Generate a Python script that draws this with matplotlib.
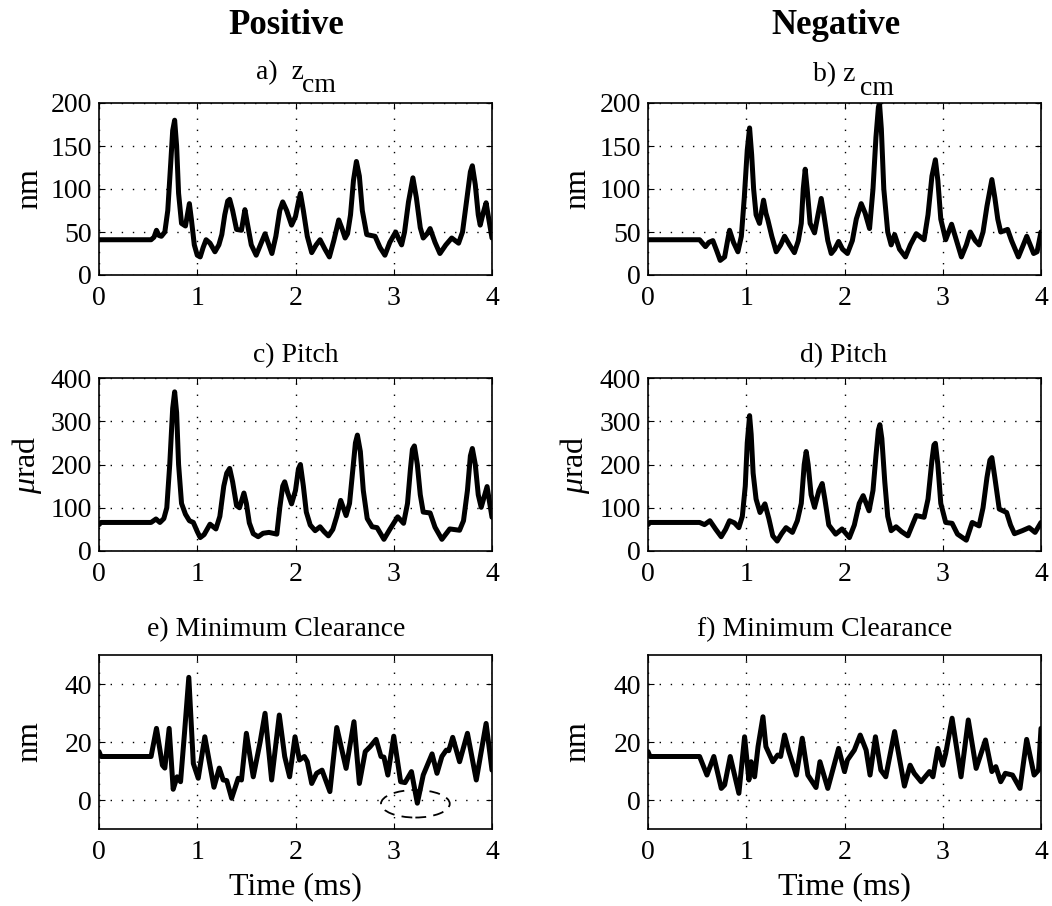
import matplotlib
matplotlib.use("Agg")
import matplotlib.pyplot as plt
from matplotlib.patches import Ellipse
from matplotlib.transforms import blended_transform_factory

plt.rcParams['font.family'] = ['Liberation Serif', 'DejaVu Serif']
plt.rcParams['mathtext.fontset'] = 'custom'
plt.rcParams['mathtext.rm'] = 'Liberation Serif'
plt.rcParams['mathtext.it'] = 'Liberation Serif:italic'

# ---- data (time in ms) ----
t_a = [0, 0.53, 0.56, 0.585, 0.61, 0.635, 0.67, 0.70, 0.73, 0.75, 0.77, 0.79, 0.81, 0.84, 0.88, 0.90, 0.92,
       0.94, 0.97, 1.0, 1.03, 1.06, 1.09, 1.13, 1.18, 1.22, 1.25, 1.28, 1.31, 1.33, 1.36, 1.40, 1.45, 1.485,
       1.51, 1.55, 1.60, 1.65, 1.69, 1.72, 1.76, 1.80, 1.84, 1.87, 1.91, 1.96, 2.0, 2.03, 2.05, 2.08, 2.12,
       2.165, 2.21, 2.25, 2.30, 2.345, 2.39, 2.44, 2.47, 2.505, 2.53, 2.56, 2.59, 2.62, 2.65, 2.68, 2.725,
       2.81, 2.86, 2.91, 2.96, 3.02, 3.05, 3.08, 3.11, 3.15, 3.195, 3.23, 3.27, 3.30, 3.34, 3.37, 3.42, 3.47,
       3.53, 3.59, 3.66, 3.70, 3.74, 3.78, 3.80, 3.83, 3.86, 3.88, 3.91, 3.94, 3.96, 4.0]
y_a = [41, 41, 44, 52, 46, 45, 50, 75, 130, 168, 180, 150, 95, 60, 57, 70, 83,
       65, 35, 23, 21, 32, 41, 37, 27, 35, 47, 70, 86, 88, 75, 53, 52, 76,
       60, 35, 23, 37, 48, 38, 25, 45, 75, 85, 75, 58, 68, 85, 95, 75, 45,
       26, 35, 41, 30, 21, 40, 64, 55, 43, 48, 70, 110, 132, 115, 75, 47,
       45, 32, 23, 38, 50, 42, 35, 50, 85, 113, 90, 55, 43, 48, 54, 38, 25,
       35, 43, 37, 50, 85, 120, 127, 105, 70, 58, 72, 84, 70, 43]

t_b = [0, 0.525, 0.555, 0.585, 0.62, 0.66, 0.70, 0.735, 0.78, 0.81, 0.83, 0.87, 0.915, 0.95, 0.98, 1.01,
       1.034, 1.055, 1.075, 1.10, 1.135, 1.176, 1.20, 1.22, 1.26, 1.305, 1.35, 1.39, 1.44, 1.49, 1.53, 1.56,
       1.58, 1.60, 1.62, 1.65, 1.695, 1.73, 1.763, 1.79, 1.83, 1.865, 1.90, 1.94, 1.98, 2.03, 2.08, 2.12,
       2.17, 2.21, 2.255, 2.29, 2.32, 2.345, 2.356, 2.375, 2.40, 2.44, 2.475, 2.51, 2.56, 2.62, 2.67, 2.73,
       2.81, 2.85, 2.89, 2.925, 2.95, 2.98, 3.03, 3.09, 3.14, 3.19, 3.24, 3.28, 3.33, 3.37, 3.41, 3.45,
       3.50, 3.53, 3.56, 3.59, 3.66, 3.70, 3.77, 3.82, 3.855, 3.89, 3.925, 3.96, 4.0]
y_b = [41, 41, 37, 33, 38, 40, 28, 17, 21, 40, 52, 38, 27, 45, 90, 145,
       171, 140, 100, 70, 60, 87, 72, 64, 45, 27, 35, 45, 35, 26, 40, 60,
       100, 123, 100, 60, 49, 70, 89, 70, 40, 25, 30, 39, 30, 25, 40, 65,
       83, 72, 54, 100, 160, 195, 200, 170, 100, 50, 35, 47, 30, 21, 35, 48,
       41, 70, 115, 134, 110, 65, 41, 59, 40, 21, 35, 50, 40, 35, 50, 80,
       111, 90, 65, 50, 53, 40, 21, 35, 45, 35, 25, 27, 50]

t_c = [0, 0.02, 0.53, 0.58, 0.62, 0.66, 0.69, 0.72, 0.75, 0.77, 0.79, 0.81, 0.84, 0.88, 0.92, 0.96, 1.0,
       1.03, 1.07, 1.13, 1.19, 1.23, 1.27, 1.30, 1.33, 1.36, 1.40, 1.43, 1.475, 1.50, 1.53, 1.57, 1.62, 1.67,
       1.73, 1.81, 1.84, 1.87, 1.89, 1.92, 1.96, 2.0, 2.03, 2.05, 2.08, 2.11, 2.15, 2.20, 2.25, 2.29, 2.335,
       2.38, 2.42, 2.46, 2.515, 2.55, 2.58, 2.61, 2.63, 2.66, 2.69, 2.73, 2.78, 2.83, 2.90, 2.96, 3.04, 3.10,
       3.14, 3.17, 3.19, 3.21, 3.24, 3.27, 3.30, 3.37, 3.42, 3.49, 3.57, 3.67, 3.71, 3.75, 3.78, 3.80, 3.83,
       3.86, 3.89, 3.95, 3.97, 4.0]
y_c = [61, 66, 66, 74, 66, 75, 100, 200, 330, 368, 320, 200, 110, 85, 70, 66, 45,
       31, 38, 62, 51, 80, 150, 180, 191, 160, 105, 100, 134, 110, 65, 40, 33, 41,
       43, 39, 100, 150, 160, 135, 109, 140, 190, 200, 150, 90, 60, 47, 56, 45, 35,
       50, 80, 117, 82, 110, 180, 250, 268, 230, 140, 75, 56, 54, 27, 50, 79, 64,
       110, 190, 235, 243, 200, 130, 90, 88, 55, 27, 51, 48, 70, 140, 220, 237, 200,
       130, 101, 149, 120, 78]

t_d = [0, 0.02, 0.525, 0.575, 0.63, 0.69, 0.745, 0.79, 0.83, 0.88, 0.925, 0.96, 0.99, 1.01, 1.034, 1.05,
       1.07, 1.10, 1.14, 1.19, 1.23, 1.27, 1.315, 1.36, 1.405, 1.47, 1.52, 1.56, 1.59, 1.61, 1.63, 1.66,
       1.695, 1.74, 1.773, 1.80, 1.84, 1.91, 1.975, 2.05, 2.10, 2.15, 2.19, 2.25, 2.29, 2.32, 2.345, 2.36,
       2.38, 2.41, 2.44, 2.475, 2.525, 2.58, 2.645, 2.69, 2.73, 2.81, 2.85, 2.89, 2.91, 2.925, 2.95, 2.98,
       3.03, 3.095, 3.15, 3.24, 3.30, 3.37, 3.41, 3.45, 3.48, 3.50, 3.53, 3.575, 3.65, 3.69, 3.73, 3.81,
       3.88, 3.94, 4.0]
y_d = [61, 66, 66, 61, 70, 50, 33, 50, 70, 65, 54, 80, 150, 250, 313, 270,
       180, 120, 89, 109, 75, 35, 23, 40, 54, 43, 70, 110, 200, 230, 200, 130,
       101, 140, 156, 120, 60, 39, 51, 31, 60, 110, 128, 93, 140, 220, 280, 292,
       260, 160, 80, 47, 56, 45, 35, 60, 82, 78, 120, 210, 245, 249, 200, 110,
       66, 64, 39, 25, 66, 58, 100, 170, 210, 216, 170, 97, 89, 60, 40, 47,
       54, 43, 66]

t_e = [0, 0.02, 0.53, 0.585, 0.645, 0.67, 0.714, 0.755, 0.795, 0.83, 0.87, 0.914, 0.96, 1.01, 1.077, 1.17,
       1.224, 1.264, 1.30, 1.35, 1.417, 1.45, 1.50, 1.57, 1.64, 1.69, 1.757, 1.835, 1.89, 1.94, 1.995,
       2.04, 2.09, 2.12, 2.165, 2.215, 2.27, 2.35, 2.42, 2.515, 2.595, 2.65, 2.71, 2.76, 2.82, 2.87,
       2.90, 2.94, 3.0, 3.07, 3.115, 3.18, 3.24, 3.30, 3.39, 3.44, 3.49, 3.535, 3.56, 3.60, 3.67, 3.75,
       3.84, 3.94, 4.0]
y_e = [16.7, 15, 15, 24.7, 12, 11, 24.7, 3.7, 8, 6.3, 23, 42.3, 12.6, 7.5, 21.8, 4.4,
       11, 6.9, 6.7, 0.6, 7.5, 6.9, 23, 8, 20, 29.9, 6.9, 29.3, 15, 8, 21.8,
       13.8, 15, 13.2, 5.7, 9.2, 10.3, 2.9, 25, 10.9, 27, 5.7, 16.7, 18.4, 20.9, 15,
       14.8, 8.6, 22, 6.3, 6, 9.8, -1.1, 8.6, 15.9, 9.2, 15, 17.2, 17, 21.6, 13.2, 23,
       6.9, 26.4, 10.3]

t_f = [0, 0.02, 0.525, 0.60, 0.67, 0.746, 0.78, 0.837, 0.925, 0.983, 1.027, 1.05, 1.085, 1.12, 1.17, 1.20,
       1.27, 1.32, 1.35, 1.39, 1.434, 1.51, 1.57, 1.627, 1.71, 1.75, 1.83, 1.94, 2.0, 2.03, 2.10,
       2.16, 2.22, 2.26, 2.315, 2.37, 2.42, 2.51, 2.61, 2.668, 2.71, 2.78, 2.865, 2.9, 2.95, 3.0,
       3.03, 3.095, 3.186, 3.26, 3.34, 3.435, 3.50, 3.54, 3.59, 3.637, 3.71, 3.786, 3.854, 3.93,
       3.975, 4.0]
y_f = [16.7, 15, 15, 8.6, 15, 4, 5.2, 15, 2.3, 21.8, 6.9, 13.2, 8, 18.4, 28.7, 18.4,
       13.2, 15.5, 15, 22.4, 16.7, 8.6, 21.3, 8.6, 4.3, 13.2, 4, 17.8, 9.8, 13.8, 17.2,
       22.4, 17.2, 8.6, 21.8, 10.3, 8, 23.6, 4.8, 12, 9.2, 6.3, 9.8, 8, 17.8, 12,
       16, 28.2, 8, 27.6, 10.9, 20.7, 9.8, 11.5, 6.3, 9.2, 8.6, 4, 20.9, 8.6,
       10.3, 24.7]

title_main = ['a)  z', 'b) z', 'c) Pitch', 'd) Pitch', 'e) Minimum Clearance', 'f) Minimum Clearance']
title_sub = ['cm', 'cm', '', '', '', '']
ylabels = ['nm', 'nm', '$\\mu$rad', '$\\mu$rad', 'nm', 'nm']
columns = ['Positive', 'Negative']
series = [(t_a, y_a), (t_b, y_b), (t_c, y_c), (t_d, y_d), (t_e, y_e), (t_f, y_f)]
ylims = [(0, 200), (0, 200), (0, 400), (0, 400), (-10, 50), (-10, 50)]
yticks = [[0, 50, 100, 150, 200], [0, 50, 100, 150, 200],
          [0, 100, 200, 300, 400], [0, 100, 200, 300, 400],
          [0, 20, 40], [0, 20, 40]]

W, H = 1052, 906
fig = plt.figure(figsize=(W / 100, H / 100), dpi=100)

lefts = [99, 648]
width = 393
rows = [(103, 275), (378, 551), (655, 829)]
ylabel_x = [44, 592]
# title placement (pixels): (x anchor, baseline y, horizontal alignment)
title_pos = [(256, 79, 'left'), (813, 81, 'left'), (296, 362, 'center'), (844, 362, 'center'),
             (147, 636, 'left'), (697, 636, 'left')]
sub_pos = [(302, 92), (860, 95)]

for i in range(6):
    r, c = divmod(i, 2)
    top, bot = rows[r]
    ax = fig.add_axes([lefts[c] / W, 1 - bot / H, width / W, (bot - top) / H])
    t, y = series[i]
    ax.plot(t, y, color='black', lw=3.6, solid_joinstyle='round', solid_capstyle='round')
    ax.set_xlim(0, 4)
    ax.set_ylim(*ylims[i])
    ax.set_xticks([0, 1, 2, 3, 4])
    ax.set_yticks(yticks[i])
    ax.grid(True, color='black', linestyle=(0, (1, 7)), linewidth=1.0)
    ax.tick_params(direction='in', top=True, right=True, labelsize=20, length=4, width=0.8)
    ax.tick_params(axis='x', pad=8)
    ax.tick_params(axis='y', pad=5)
    for s in ax.spines.values():
        s.set_linewidth(1.2)
    ax.set_ylabel(ylabels[i], fontsize=23)
    ax.yaxis.set_label_coords(ylabel_x[c] / W, 0.5,
                              transform=blended_transform_factory(fig.transFigure, ax.transAxes))
    if r == 2:
        ax.set_xlabel('Time (ms)', fontsize=23, labelpad=5)
    if i == 4:
        ax.add_patch(Ellipse((3.22, -1.3), 0.70, 9.5, fill=False, edgecolor='black',
                             linestyle=(0, (6, 4)), linewidth=1.3))
    tx, ty, ha = title_pos[i]
    fig.text(tx / W, 1 - ty / H, title_main[i], ha=ha, va='baseline', fontsize=20)
    if title_sub[i]:
        sx, sy = sub_pos[c]
        fig.text(sx / W, 1 - sy / H, title_sub[i], ha='left', va='baseline', fontsize=20)

fig.text(286 / W, 1 - 25 / H, columns[0], ha='center', va='center', fontsize=25, fontweight='bold')
fig.text(836 / W, 1 - 25 / H, columns[1], ha='center', va='center', fontsize=25, fontweight='bold')

fig.savefig('out.png', dpi=100, facecolor='white')
